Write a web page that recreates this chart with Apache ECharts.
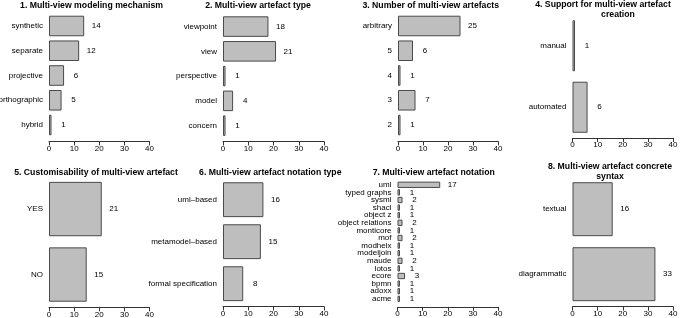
<!DOCTYPE html>
<html>
<head>
<meta charset="utf-8">
<script src="https://cdn.jsdelivr.net/npm/echarts@6/dist/echarts.min.js"></script>
<style>
  html, body { margin: 0; padding: 0; background: #fff; }
  #chart { width: 685px; height: 318px; }
</style>
</head>
<body>
<div id="chart"></div>
<script>
// panel data, listed top to bottom as in the picture
var mechanismNames = ['synthetic', 'separate', 'projective', 'orthographic', 'hybrid'];
var mechanismCounts = [14, 12, 6, 5, 1];

var artefactTypeNames = ['viewpoint', 'view', 'perspective', 'model', 'concern'];
var artefactTypeCounts = [18, 21, 1, 4, 1];

var artefactNumberNames = ['arbitrary', '5', '4', '3', '2'];
var artefactNumberCounts = [25, 6, 1, 7, 1];

var creationNames = ['manual', 'automated'];
var creationCounts = [1, 6];

var customNames = ['YES', 'NO'];
var customCounts = [21, 15];

var notationTypeNames = ['uml–based', 'metamodel–based', 'formal specification'];
var notationTypeCounts = [16, 15, 8];

var notationNames = ['uml', 'typed graphs', 'sysml', 'shacl', 'object z', 'object relations',
  'monticore', 'mof', 'modhelx', 'modeljoin', 'maude', 'lotos', 'ecore', 'bpmn', 'adoxx', 'acme'];
var notationCounts = [17, 1, 2, 1, 1, 2, 1, 2, 1, 1, 2, 1, 3, 1, 1, 1];

var syntaxNames = ['textual', 'diagrammatic'];
var syntaxCounts = [16, 33];

var xMin = 0, xMax = 40, xStep = 10;

var font = 'Liberation Sans, Arial, Helvetica, sans-serif';

// layout of each panel (pixels)
var panels = [
  { names: mechanismNames, values: mechanismCounts, left: 49, width: 100.5, top: 13.6, height: 123.8, offset: 4,
    title: [{ text: '1. Multi-view modeling mechanism', x: 91.5, y: 5.5 }] },
  { names: artefactTypeNames, values: artefactTypeCounts, left: 223, width: 101, top: 14.2, height: 123.8, offset: 3.5,
    title: [{ text: '2. Multi-view artefact type', x: 258, y: 5.5 }] },
  { names: artefactNumberNames, values: artefactNumberCounts, left: 398, width: 100, top: 13.6, height: 123.8, offset: 4,
    title: [{ text: '3. Number of multi-view artefacts', x: 430.7, y: 5.5 }] },
  { names: creationNames, values: creationCounts, left: 572.5, width: 100.5, top: 15, height: 123, offset: 0,
    title: [{ text: '4. Support for multi-view artefact', x: 603, y: 5 },
            { text: 'creation', x: 618, y: 15 }] },
  { names: customNames, values: customCounts, left: 49, width: 100.5, top: 176.3, height: 131, offset: 0,
    title: [{ text: '5. Customisability of multi-view artefact', x: 96, y: 173 }] },
  { names: notationTypeNames, values: notationTypeCounts, left: 223, width: 101, top: 178.7, height: 126, offset: 1.8,
    title: [{ text: '6. Multi-view artefact notation type', x: 270.3, y: 173 }] },
  { names: notationNames, values: notationCounts, left: 397.5, width: 100.5, top: 181, height: 121.6, offset: 4.3,
    title: [{ text: '7. Multi-view artefact notation', x: 433.7, y: 173 }] },
  { names: syntaxNames, values: syntaxCounts, left: 572.5, width: 100.5, top: 176.7, height: 130, offset: 0,
    title: [{ text: '8. Multi-view artefact concrete', x: 610, y: 166.3 },
            { text: 'syntax', x: 610, y: 176.3 }] }
];

var grids = [], xAxes = [], yAxes = [], series = [], titles = [];

panels.forEach(function (p, i) {
  grids.push({
    left: p.left, width: p.width, top: p.top, height: p.height,
    containLabel: false,
    outerBoundsMode: 'none'
  });
  xAxes.push({
    gridIndex: i,
    type: 'value',
    min: xMin,
    max: xMax,
    interval: xStep,
    offset: p.offset,
    splitLine: { show: false },
    axisLine: { show: true, lineStyle: { color: '#333', width: 1 } },
    axisTick: { show: true, length: 4, lineStyle: { color: '#333' } },
    axisLabel: { fontSize: 8, color: '#000', margin: 3, fontFamily: font }
  });
  yAxes.push({
    gridIndex: i,
    type: 'category',
    inverse: true,
    data: p.names,
    axisLine: { show: false },
    axisTick: { show: false },
    splitLine: { show: false },
    axisLabel: { interval: 0, fontSize: 8, color: '#000', margin: 6, fontFamily: font }
  });
  series.push({
    type: 'bar',
    xAxisIndex: i,
    yAxisIndex: i,
    data: p.values,
    barCategoryGap: '17%',
    silent: true,
    itemStyle: { color: '#bebebe', borderColor: '#4a4a4a', borderWidth: 1 },
    label: {
      show: true,
      position: 'right',
      distance: 12,
      align: 'center',
      fontSize: 8,
      color: '#000',
      fontFamily: font
    }
  });
  p.title.forEach(function (t) {
    titles.push({
      type: 'text',
      x: t.x,
      y: t.y,
      style: {
        text: t.text,
        textAlign: 'center',
        textVerticalAlign: 'middle',
        fontSize: 8.7,
        fontWeight: 'bold',
        fontFamily: font,
        fill: '#000'
      }
    });
  });
});

var myChart = echarts.init(document.getElementById('chart'), null, { renderer: 'canvas' });
var option = {
  backgroundColor: '#fff',
  animation: false,
  grid: grids,
  xAxis: xAxes,
  yAxis: yAxes,
  series: series,
  graphic: titles
};
option && myChart.setOption(option);
</script>
</body>
</html>
